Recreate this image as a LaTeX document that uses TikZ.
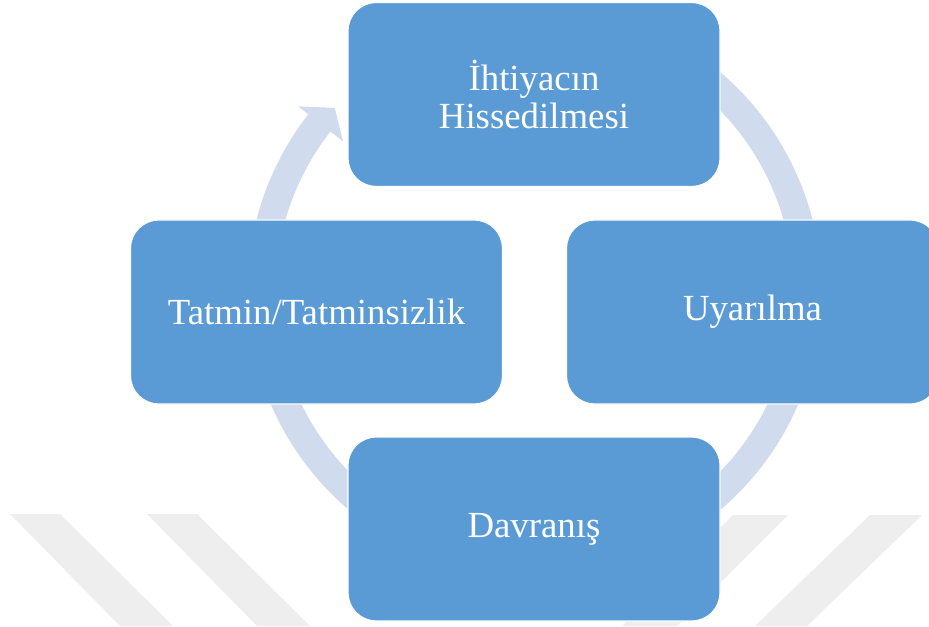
\documentclass[tikz,border=0pt]{standalone}
\usepackage{fontspec}
\setmainfont{Liberation Serif}
\definecolor{boxblue}{HTML}{5B9BD5}
\definecolor{ringblue}{HTML}{D0DCEE}
\definecolor{stripegray}{HTML}{EEEEEE}
\tikzset{
  stage/.style={rectangle, rounded corners=21pt, fill=boxblue, draw=white,
    line width=1pt, minimum width=279pt, minimum height=138pt, inner sep=0pt,
    text=white, align=center,
    font=\fontsize{27.6pt}{28.7pt}\selectfont},
  ring/.style={fill=ringblue},
  stripe/.style={fill=stripegray}
}
\begin{document}
\begin{tikzpicture}[x=0.75pt, y=0.75pt]
  \useasboundingbox (0,0) rectangle (929,626);
  \clip (0,0) rectangle (929,626);
  \fill[white] (0,0) rectangle (929,626);

  % background stripes
  \fill[stripe] (10,112) -- (60,112) -- (173,0) -- (120,0) -- cycle;
  \fill[stripe] (147,112) -- (197,112) -- (310,0) -- (257,0) -- cycle;
  \fill[stripe] (733,111) -- (788,111) -- (677,0) -- (622,0) -- cycle;
  \fill[stripe] (870,111) -- (922,111) -- (807,0) -- (755,0) -- cycle;

  % circular arrow running clockwise behind the stages
  \begin{scope}[shift={(534.5,335)}]
    \coordinate (hub) at (0,0);
    \fill[ring] (70:215.25pt)
      arc[start angle=70, end angle=-218, radius=215.25pt]
      -- (-218:225pt) -- (-222.5:203.25pt) -- (-218:182.25pt)
      -- (-218:194.25pt)
      arc[start angle=-218, end angle=70, radius=194.25pt] -- cycle;
  \end{scope}

  % stages of the cycle
  \node[stage] (top)    at (534,531.5) {İhtiyacın\\Hissedilmesi};
  \node[stage] (right)  at (752.5,314) {Uyarılma};
  \node[stage] (left)   at (316.5,314) {Tatmin/Tatminsizlik};
  \node[stage] (bottom) at (534,97)    {Davranış};
\end{tikzpicture}
\end{document}
